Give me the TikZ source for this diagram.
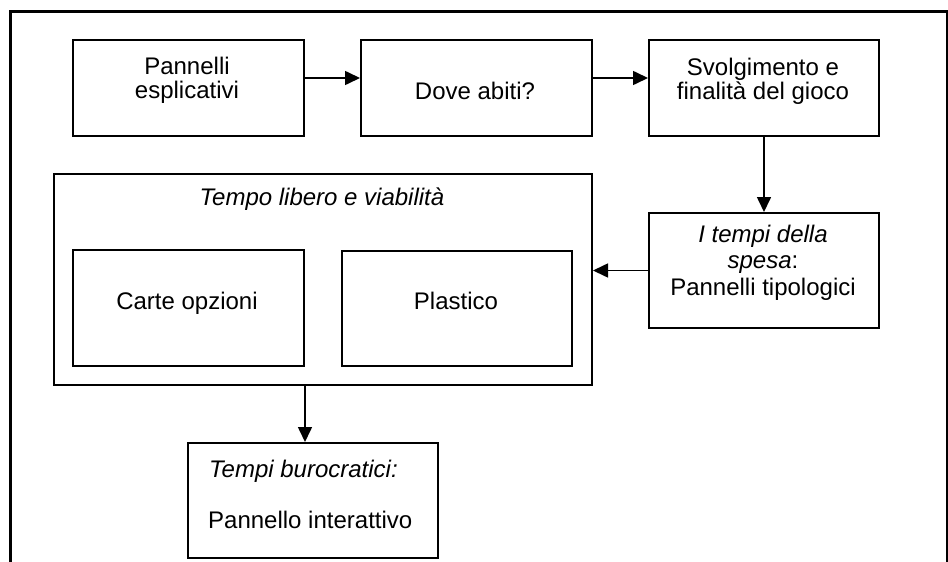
\documentclass[tikz,border=0pt]{standalone}
\usepackage{fontspec}
\setmainfont{Liberation Sans}
\usetikzlibrary{arrows.meta}
\tikzset{
  box/.style={draw, line width=2pt, rectangle, inner sep=0pt, anchor=north west},
  txt/.style={inner sep=0pt, anchor=base, font=\fontsize{24}{26}\selectfont},
  txtl/.style={inner sep=0pt, anchor=base west, font=\fontsize{24}{26}\selectfont},
  arr/.style={line width=1.6pt, -{Triangle[length=15pt,width=14pt]}},
  frame/.style={line width=3pt}
}
\begin{document}
\begin{tikzpicture}[x=1pt,y=-1pt]
\useasboundingbox (0,0) rectangle (948,562);
% outer frame (open at bottom)
\draw[frame] (10,562) -- (10,11) -- (947,11) -- (947,562);
% boxes
\node[box, minimum width=231pt, minimum height=96pt] (b1) at (72,39) {};
\node[box, minimum width=231pt, minimum height=96pt] (b2) at (360,39) {};
\node[box, minimum width=230pt, minimum height=96pt] (b3) at (648,39) {};
\node[box, minimum width=230pt, minimum height=115pt] (b4) at (648,212) {};
\node[box, minimum width=538pt, minimum height=211pt] (big) at (53,173) {};
\node[box, minimum width=231pt, minimum height=116pt] (carte) at (72,249) {};
\node[box, minimum width=230pt, minimum height=115pt] (plast) at (341,250) {};
\node[box, minimum width=250pt, minimum height=115pt] (b6) at (187,442) {};
% texts
\node[txt] (t1a) at (187,74) {Pannelli};
\node[txt] (t1b) at (187,98) {esplicativi};
\node[txt] (t2) at (475,99) {Dove abiti?};
\node[txt] (t3a) at (763,75) {Svolgimento e};
\node[txt] (t3b) at (763,99) {finalità del gioco};
\node[txt] (t4a) at (763,242) {\textit{I tempi della}};
\node[txt] (t4b) at (763,268) {\textit{spesa}:};
\node[txt] (t4c) at (763,295) {Pannelli tipologici};
\node[txt] (tbig) at (322,205) {\textit{Tempo libero e viabilità}};
\node[txt] (tc) at (187,309) {Carte opzioni};
\node[txt] (tp) at (456,309) {Plastico};
\node[txtl] (t6a) at (209,477) {\textit{Tempi burocratici:}};
\node[txtl] (t6b) at (208,528) {Pannello interattivo};
% connectors
\coordinate (y1) at (0,78);
\draw[arr] (b1.east |- y1) -- (b2.west |- y1);
\draw[arr] (b2.east |- y1) -- (b3.west |- y1);
\draw[arr] (b3.south) -- (b4.north);
\draw[arr] (b4.west) -- (big.east |- b4.west);
\draw[arr] (carte.east |- big.south) -- (carte.east |- b6.north);
\end{tikzpicture}
\end{document}
